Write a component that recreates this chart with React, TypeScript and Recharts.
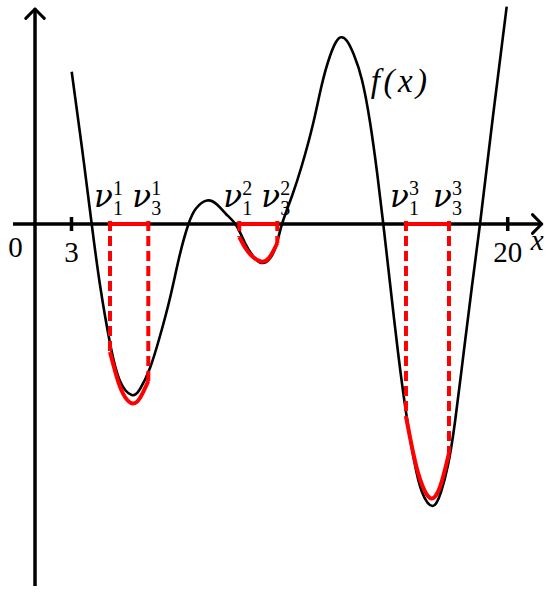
import React from "react";
import { ComposedChart, Line, XAxis, YAxis, ReferenceDot, ReferenceLine } from "recharts";

// ---- data (x in axis units where ticks 3 and 20 sit; y = f(x) in arbitrary units) ----
const curveX = [3.008, 3.409, 3.787, 4.111, 4.5, 4.89, 5.346, 5.67, 6.059, 6.449, 6.839, 7.228, 7.56, 7.852, 8.281, 8.67, 9.021, 9.411, 9.762, 10.073, 10.424, 10.775, 11.009, 11.203, 11.593, 11.983, 12.412, 12.762, 13.074, 13.308, 13.503, 13.737, 14.009, 14.321, 14.633, 14.906, 15.151, 15.412, 15.724, 16.036, 16.348, 16.659, 17.077, 17.4, 17.673, 17.945, 18.296, 18.608, 18.92, 19.427, 19.96];
const curveY = [7.615, 3.8, 0, -3.05, -5.95, -7.85, -8.55, -8.25, -7.2, -5.6, -3.7, -1.5, 0, 0.775, 1.175, 0.975, 0.5, -0.05, -0.95, -1.6, -1.95, -1.65, -0.95, 0, 1.4, 2.95, 5.0, 7.0, 8.4, 9.1, 9.335, 9.15, 8.45, 7.2, 5.1, 2.6, 0, -2.95, -6.4, -9.4, -11.8, -13.4, -14.1, -13.4, -12.05, -9.9, -6.3, -3.1, 0, 5.4, 10.865];

const red1X = [4.5, 4.812, 5.085, 5.377, 5.67, 5.993];
const red1Y = [-6.4, -7.85, -8.65, -8.975, -8.7, -7.85];
const red2X = [9.539, 9.801, 10.073, 10.385, 10.697, 11.02];
const red2Y = [-0.65, -1.25, -1.65, -1.875, -1.7, -0.95];
const red3X = [16.035, 16.308, 16.58, 16.97, 17.36, 17.711];
const red3Y = [-9.635, -11.4, -12.75, -13.7, -13.15, -11.465];

const intervalLabels = [
  ["1", "1"], ["3", "1"], ["1", "2"], ["3", "2"], ["1", "3"], ["3", "3"],
]; // [subscript, superscript]

const tickValues = [3, 20];
const tickLabels = ["3", "20"];

const xDomain = [0.2136, 21.648];
const yDomain = [-18.75, 11.2];
const yAxisX = 1.578;
const xAxisStart = 0.72;
const xAxisEnd = 21.325;
const yAxisBottom = -18.1;
const yAxisTop = 10.75;
const dashTop = 0.15;
const fLabelPos = { x: 15.83, y: 6.6 };

const zip = (xs: number[], ys: number[]) => xs.map((x, i) => ({ x, y: ys[i] }));

const curve = zip(curveX, curveY);
const reds = [zip(red1X, red1Y), zip(red2X, red2Y), zip(red3X, red3Y)];
const intervals = reds.map((r) => [r[0].x, r[r.length - 1].x]);
const endpoints: { x: number; yEnd: number }[] = [];
reds.forEach((r) => {
  endpoints.push({ x: r[0].x, yEnd: r[0].y });
  endpoints.push({ x: r[r.length - 1].x, yEnd: r[r.length - 1].y });
});

const SERIF = "'DejaVu Serif', 'Liberation Serif', serif";
const SERIF2 = "'Liberation Serif', 'DejaVu Serif', serif";

const seg = (x1: number, y1: number, x2: number, y2: number) => [{ x: x1, y: y1 }, { x: x2, y: y2 }];

export default function App() {
  return (
    <div style={{ position: "absolute", left: 0, top: 0, background: "#fff" }}>
      <ComposedChart width={550} height={599} margin={{ top: 0, right: 0, bottom: 0, left: 0 }}>
        <XAxis type="number" dataKey="x" domain={xDomain} allowDataOverflow hide />
        <YAxis type="number" dataKey="y" domain={yDomain} allowDataOverflow hide />

        {/* axes */}
        <ReferenceLine segment={seg(xAxisStart, 0, xAxisEnd, 0)} stroke="#000" strokeWidth={3.5} ifOverflow="visible" />
        <ReferenceLine segment={seg(yAxisX, yAxisBottom, yAxisX, yAxisTop)} stroke="#000" strokeWidth={3.5} ifOverflow="visible" />
        <ReferenceLine segment={seg(xAxisEnd - 0.36, 0.47, xAxisEnd, 0)} stroke="#000" strokeWidth={3} strokeLinecap="round" ifOverflow="visible" />
        <ReferenceLine segment={seg(xAxisEnd - 0.36, -0.47, xAxisEnd, 0)} stroke="#000" strokeWidth={3} strokeLinecap="round" ifOverflow="visible" />
        <ReferenceLine segment={seg(yAxisX - 0.36, yAxisTop - 0.47, yAxisX, yAxisTop)} stroke="#000" strokeWidth={3} strokeLinecap="round" ifOverflow="visible" />
        <ReferenceLine segment={seg(yAxisX + 0.36, yAxisTop - 0.47, yAxisX, yAxisTop)} stroke="#000" strokeWidth={3} strokeLinecap="round" ifOverflow="visible" />
        {tickValues.map((t) => (
          <ReferenceLine key={"tk" + t} segment={seg(t, 0.35, t, -0.35)} stroke="#000" strokeWidth={3.5} ifOverflow="visible" />
        ))}

        {/* f(x) */}
        <Line data={curve} dataKey="y" stroke="#000" strokeWidth={2.6} dot={false} activeDot={false} isAnimationActive={false} type="natural" />

        {/* red intervals on the axis */}
        {intervals.map((iv, i) => (
          <ReferenceLine key={"iv" + i} segment={seg(iv[0], 0, iv[1], 0)} stroke="#ff0000" strokeWidth={4} ifOverflow="visible" />
        ))}
        {/* dashed verticals */}
        {endpoints.map((e, i) => (
          <ReferenceLine key={"dl" + i} segment={seg(e.x, dashTop, e.x, e.yEnd)} stroke="#ff0000" strokeWidth={4} strokeDasharray="10 5" ifOverflow="visible" />
        ))}
        {/* red curve pieces */}
        {reds.map((r, i) => (
          <Line key={"rc" + i} data={r} dataKey="y" stroke="#ff0000" strokeWidth={4} dot={false} activeDot={false} isAnimationActive={false} type="natural" />
        ))}

        {/* labels */}
        {endpoints.map((e, i) => (
          <ReferenceDot
            key={"lb" + i}
            x={e.x}
            y={0}
            r={0}
            stroke="none"
            fill="none"
            ifOverflow="visible"
            shape={(p: any) => (
              <g fill="#000">
                <text x={p.cx - 6.5} y={p.cy - 17} fontSize={31} fontFamily={SERIF} fontStyle="italic" textAnchor="middle">ν</text>
                <text x={p.cx + 8} y={p.cy - 29} fontSize={20} fontFamily={SERIF2} textAnchor="middle">{intervalLabels[i][1]}</text>
                <text x={p.cx + 8} y={p.cy - 9} fontSize={20} fontFamily={SERIF2} textAnchor="middle">{intervalLabels[i][0]}</text>
              </g>
            )}
          />
        ))}
        {tickValues.map((t, i) => (
          <ReferenceDot
            key={"tl" + t}
            x={t}
            y={0}
            r={0}
            stroke="none"
            fill="none"
            ifOverflow="visible"
            shape={(p: any) => (
              <text x={p.cx} y={p.cy + 38} fontSize={29} fontFamily={SERIF2} textAnchor="middle" fill="#000">{tickLabels[i]}</text>
            )}
          />
        ))}
        <ReferenceDot
          x={yAxisX}
          y={0}
          r={0}
          stroke="none"
          fill="none"
          ifOverflow="visible"
          shape={(p: any) => (
            <text x={p.cx - 19.5} y={p.cy + 33} fontSize={29} fontFamily={SERIF2} textAnchor="middle" fill="#000">0</text>
          )}
        />
        <ReferenceDot
          x={xAxisEnd}
          y={0}
          r={0}
          stroke="none"
          fill="none"
          ifOverflow="visible"
          shape={(p: any) => (
            <text x={p.cx - 4.5} y={p.cy + 26} fontSize={29} fontFamily={SERIF2} fontStyle="italic" textAnchor="middle" fill="#000">x</text>
          )}
        />
        <ReferenceDot
          x={fLabelPos.x}
          y={fLabelPos.y}
          r={0}
          stroke="none"
          fill="none"
          ifOverflow="visible"
          shape={(p: any) => (
            <text x={p.cx} y={p.cy} fontSize={33} fontFamily={SERIF2} fontStyle="italic" textAnchor="middle" fill="#000" letterSpacing={3.5}>f(x)</text>
          )}
        />
      </ComposedChart>
    </div>
  );
}
